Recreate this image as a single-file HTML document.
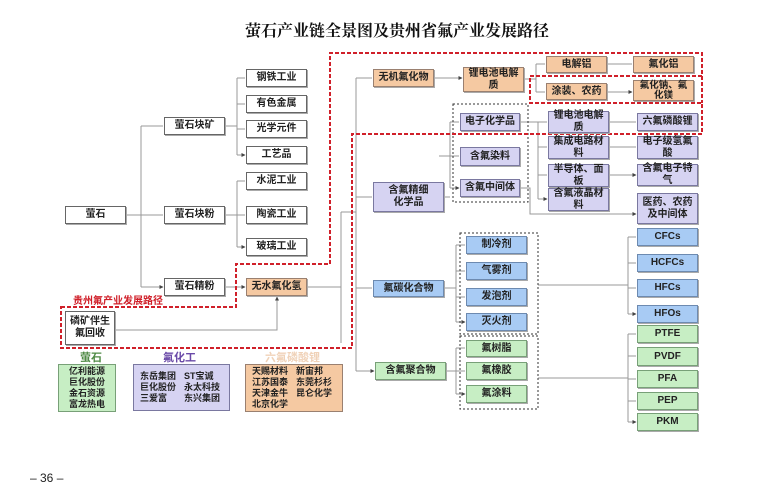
<!DOCTYPE html>
<html><head><meta charset="utf-8"><style>
body{margin:0;width:763px;height:500px;background:#fff;position:relative;overflow:hidden;font-family:"Liberation Sans","Noto Sans CJK SC",sans-serif;}
.b{position:absolute;box-sizing:border-box;border:1px solid #666;background:#fff;font-size:10px;font-weight:bold;color:#222;display:flex;align-items:center;justify-content:center;text-align:center;line-height:12px;box-shadow:1px 1px 0 #aaa;padding:0 1px}
.o{background:#f5c9a2;border-color:#9a8070}.p{background:#d6d3f2;border-color:#7a78a0}.bl{background:#a8cbf4;border-color:#6d8ab0}.g{background:#c7eec4;border-color:#78a078}
.t{position:absolute;font-weight:bold;white-space:nowrap}
.lg{font-size:9px;line-height:11px;box-shadow:none;white-space:nowrap}
.lg span{display:inline-block;width:44px}
svg{position:absolute;left:0;top:0}
</style></head><body>
<div class="t" style="left:245px;top:18px;font-size:16px;font-family:'Noto Serif CJK SC',serif;color:#111">萤石产业链全景图及贵州省氟产业发展路径</div>
<svg width="763" height="500">
<defs><marker id="a" markerWidth="4" markerHeight="4" refX="3.5" refY="2" orient="auto" markerUnits="userSpaceOnUse"><path d="M0,0L4,2L0,4z" fill="#444"/></marker></defs>
<g stroke="#999" stroke-width="1" fill="none">
<path d="M126,215H141M141,126V287"/><path d="M141,126H163M141,215H163M141,287H163" marker-end="url(#a)"/>
<path d="M225,126H237M237,78V155"/><path d="M237,78H245M237,104H245M237,129H245M237,155H245" marker-end="url(#a)"/>
<path d="M225,215H237M237,181V247"/><path d="M237,181H245M237,215H245M237,247H245" marker-end="url(#a)"/>
<path d="M225,287H245" marker-end="url(#a)"/>
<path d="M115,330H277V297" marker-end="url(#a)"/>
<path d="M307,287H341M341,212V343M341,212H356M356,78V371"/>
<path d="M356,78H372M356,197H372M356,288H372M356,371H374" marker-end="url(#a)"/>
<path d="M434,78H462" marker-end="url(#a)"/>
<path d="M524,79H536M536,64V92"/><path d="M536,64H545M536,92H545M607,64H632M607,92H632" marker-end="url(#a)"/>
<path d="M444,197H450M450,122V188"/><path d="M450,122H459M439,156H459M450,188H459" marker-end="url(#a)"/>
<path d="M520,122H538M538,122V199"/><path d="M538,122H547M538,147H547M538,175H547M538,199H547" marker-end="url(#a)"/>
<path d="M520,188H530V214H636" marker-end="url(#a)"/>
<path d="M609,122H636M609,147H636M609,175H636" marker-end="url(#a)"/>
<path d="M444,288H456M456,245V322"/><path d="M456,245H465M456,271H465M456,297H465M456,322H465" marker-end="url(#a)"/>
<path d="M538,285H628M628,237V314"/><path d="M628,237H636M628,263H636M628,288H636M628,314H636" marker-end="url(#a)"/>
<path d="M446,371H456M456,348V394"/><path d="M456,348H465M456,371H465M456,394H465" marker-end="url(#a)"/>
<path d="M538,378H628M628,334V422"/><path d="M628,334H636M628,356H636M628,379H636M628,401H636M628,422H636" marker-end="url(#a)"/>
</g>
<g fill="none" stroke="#333" stroke-dasharray="2,2" stroke-width="1">
<rect x="453" y="104" width="75" height="98"/><rect x="460" y="233" width="78" height="101"/><rect x="460" y="336" width="78" height="73"/>
</g>
<g fill="none" stroke="#d0202a" stroke-dasharray="4,2" stroke-width="2">
<path d="M61,307H236V264H330V53H702V76H530V103H702V134H352V348H61Z"/>
<path d="M702,76V103"/>
</g>
</svg>
<div class="t" style="left:73px;top:292px;font-size:10px;color:#d0202a">贵州氟产业发展路径</div>
<div class="b" style="left:65px;top:206px;width:61px;height:18px">萤石</div>
<div class="b" style="left:164px;top:117px;width:61px;height:18px">萤石块矿</div>
<div class="b" style="left:164px;top:206px;width:61px;height:18px">萤石块粉</div>
<div class="b" style="left:164px;top:278px;width:61px;height:18px">萤石精粉</div>
<div class="b" style="left:246px;top:69px;width:61px;height:18px">钢铁工业</div>
<div class="b" style="left:246px;top:95px;width:61px;height:18px">有色金属</div>
<div class="b" style="left:246px;top:120px;width:61px;height:18px">光学元件</div>
<div class="b" style="left:246px;top:146px;width:61px;height:18px">工艺品</div>
<div class="b" style="left:246px;top:172px;width:61px;height:18px">水泥工业</div>
<div class="b" style="left:246px;top:206px;width:61px;height:18px">陶瓷工业</div>
<div class="b" style="left:246px;top:238px;width:61px;height:18px">玻璃工业</div>
<div class="b o" style="left:246px;top:278px;width:61px;height:18px">无水氟化氢</div>
<div class="b" style="left:65px;top:311px;width:50px;height:34px">磷矿伴生<br>氟回收</div>
<div class="b o" style="left:373px;top:69px;width:61px;height:18px">无机氟化物</div>
<div class="b o" style="left:463px;top:67px;width:61px;height:25px">锂电池电解<br>质</div>
<div class="b o" style="left:546px;top:56px;width:61px;height:17px">电解铝</div>
<div class="b o" style="left:633px;top:56px;width:61px;height:17px">氟化铝</div>
<div class="b o" style="left:546px;top:83px;width:61px;height:17px">涂装、农药</div>
<div class="b o" style="left:633px;top:80px;width:61px;height:21px;font-size:9.5px;line-height:10px">氟化钠、氟<br>化镁</div>
<div class="b p" style="left:460px;top:113px;width:60px;height:18px">电子化学品</div>
<div class="b p" style="left:460px;top:147px;width:60px;height:19px">含氟染料</div>
<div class="b p" style="left:460px;top:179px;width:60px;height:18px">含氟中间体</div>
<div class="b p" style="left:373px;top:182px;width:71px;height:30px">含氟精细<br>化学品</div>
<div class="b p" style="left:548px;top:111px;width:61px;height:22px">锂电池电解<br>质</div>
<div class="b p" style="left:637px;top:113px;width:61px;height:18px">六氟磷酸锂</div>
<div class="b p" style="left:548px;top:136px;width:61px;height:23px">集成电路材<br>料</div>
<div class="b p" style="left:637px;top:136px;width:61px;height:23px">电子级氢氟<br>酸</div>
<div class="b p" style="left:548px;top:164px;width:61px;height:23px">半导体、面<br>板</div>
<div class="b p" style="left:637px;top:164px;width:61px;height:22px">含氟电子特<br>气</div>
<div class="b p" style="left:548px;top:188px;width:61px;height:23px">含氟液晶材<br>料</div>
<div class="b p" style="left:637px;top:193px;width:61px;height:31px">医药、农药<br>及中间体</div>
<div class="b bl" style="left:373px;top:280px;width:71px;height:17px">氟碳化合物</div>
<div class="b bl" style="left:466px;top:236px;width:61px;height:18px">制冷剂</div>
<div class="b bl" style="left:466px;top:262px;width:61px;height:18px">气雾剂</div>
<div class="b bl" style="left:466px;top:288px;width:61px;height:18px">发泡剂</div>
<div class="b bl" style="left:466px;top:313px;width:61px;height:18px">灭火剂</div>
<div class="b bl" style="left:637px;top:228px;width:61px;height:18px">CFCs</div>
<div class="b bl" style="left:637px;top:254px;width:61px;height:18px">HCFCs</div>
<div class="b bl" style="left:637px;top:279px;width:61px;height:18px">HFCs</div>
<div class="b bl" style="left:637px;top:305px;width:61px;height:18px">HFOs</div>
<div class="b g" style="left:375px;top:362px;width:71px;height:18px">含氟聚合物</div>
<div class="b g" style="left:466px;top:340px;width:61px;height:17px">氟树脂</div>
<div class="b g" style="left:466px;top:362px;width:61px;height:18px">氟橡胶</div>
<div class="b g" style="left:466px;top:385px;width:61px;height:18px">氟涂料</div>
<div class="b g" style="left:637px;top:325px;width:61px;height:18px">PTFE</div>
<div class="b g" style="left:637px;top:347px;width:61px;height:19px">PVDF</div>
<div class="b g" style="left:637px;top:370px;width:61px;height:18px">PFA</div>
<div class="b g" style="left:637px;top:392px;width:61px;height:18px">PEP</div>
<div class="b g" style="left:637px;top:413px;width:61px;height:18px">PKM</div>
<div class="t" style="left:80px;top:349px;font-size:11px;color:#4f8a45">萤石</div>
<div class="t" style="left:163px;top:349px;font-size:11px;color:#6a4aa8">氟化工</div>
<div class="t" style="left:265px;top:349px;font-size:11px;color:#f0d2b8">六氟磷酸锂</div>
<div class="b g lg" style="left:58px;top:364px;width:58px;height:48px">亿利能源<br>巨化股份<br>金石资源<br>富龙热电</div>
<div class="b p lg" style="left:133px;top:364px;width:97px;height:47px;justify-content:flex-start;text-align:left;padding-left:6px"><div><span>东岳集团</span>ST宝诚<br><span>巨化股份</span>永太科技<br><span>三爱富</span>东兴集团</div></div>
<div class="b o lg" style="left:245px;top:364px;width:98px;height:48px;justify-content:flex-start;text-align:left;padding-left:6px"><div><span>天赐材料</span>新宙邦<br><span>江苏国泰</span>东莞杉杉<br><span>天津金牛</span>昆仑化学<br>北京化学</div></div>
<div class="t" style="left:30px;top:471px;font-size:12px;font-weight:normal;color:#222">– 36 –</div>
</body></html>
